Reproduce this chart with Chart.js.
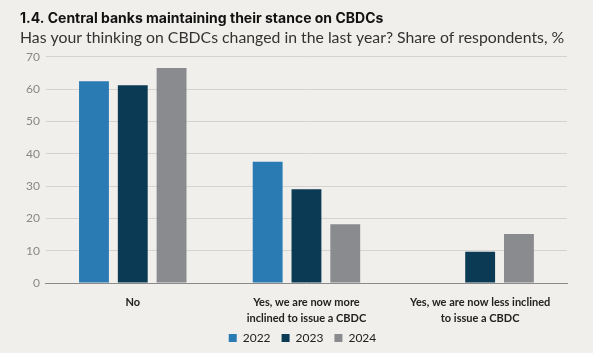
<!DOCTYPE html>
<html>
<head>
<meta charset="utf-8">
<script src="https://cdn.jsdelivr.net/npm/chart.js@4"></script>
<style>
  html, body { margin: 0; padding: 0; background: #f0efeb; }
  #wrap { width: 593px; height: 353px; position: relative; }
</style>
</head>
<body>
<div id="wrap"><canvas id="chart" width="593" height="353"></canvas></div>
<script>
// Données
const categories = [
    'No',
    ['Yes, we are now more', 'inclined to issue a CBDC'],
    ['Yes, we are now less inclined', 'to issue a CBDC']
];
const years = ['2022', '2023', '2024'];
const values2022 = [62.4, 37.5, null];
const values2023 = [61.2, 29.0, 9.7];
const values2024 = [66.5, 18.2, 15.2];
const yTicks = [0, 10, 20, 30, 40, 50, 60, 70];

const colors = ['#2a7ab3', '#0b3a55', '#8a8b8f'];

// Légende plus compacte en hauteur (garde l'espacement horizontal)
const legendHeight = {
    id: 'legendHeight',
    beforeInit(chart) {
        const origFit = chart.legend.fit;
        chart.legend.fit = function () {
            origFit.call(this);
            this.height -= 9;
        };
    },
    afterLayout(chart) {
        chart.legend.top -= 8;
        chart.legend.left += 9;
        chart.legend.right += 9;
    }
};

const ctx = document.getElementById('chart').getContext('2d');
new Chart(ctx, {
    type: 'bar',
    data: {
        labels: categories,
        datasets: [values2022, values2023, values2024].map((vals, i) => ({
            label: years[i],
            data: vals,
            backgroundColor: colors[i],
            categoryPercentage: 0.67,
            barPercentage: 0.77
        }))
    },
    plugins: [legendHeight],
    options: {
        responsive: false,
        animation: false,
        layout: { padding: { left: 20, right: 26, top: 2, bottom: 0 } },
        plugins: {
            title: {
                display: true,
                text: '1.4. Central banks maintaining their stance on CBDCs',
                align: 'start',
                color: '#111',
                font: { family: 'Inter', size: 14, weight: 'bold' },
                padding: { top: 8, bottom: 2 }
            },
            subtitle: {
                display: true,
                text: 'Has your thinking on CBDCs changed in the last year? Share of respondents, %',
                align: 'start',
                color: '#333',
                font: { family: 'Lato', size: 15.8 },
                padding: { bottom: 9 }
            },
            legend: {
                position: 'bottom',
                labels: {
                    boxWidth: 8,
                    boxHeight: 8,
                    padding: 11,
                    color: '#222',
                    font: { family: 'Lato', size: 12 }
                }
            },
            tooltip: { enabled: false }
        },
        scales: {
            x: {
                grid: { display: false },
                border: { color: '#8a8a8a' },
                ticks: {
                    color: '#222',
                    font: { family: 'Lato', size: 11, weight: 'bold', lineHeight: 1.45 },
                    maxRotation: 0,
                    padding: 3
                }
            },
            y: {
                min: 0,
                max: 70,
                afterBuildTicks: axis => { axis.ticks = yTicks.map(v => ({ value: v })); },
                grid: { color: '#d4d3cf', drawTicks: false },
                border: { display: false },
                ticks: {
                    color: '#888',
                    font: { family: 'Lato', size: 12 },
                    padding: 6
                }
            }
        }
    }
});
</script>
</body>
</html>
